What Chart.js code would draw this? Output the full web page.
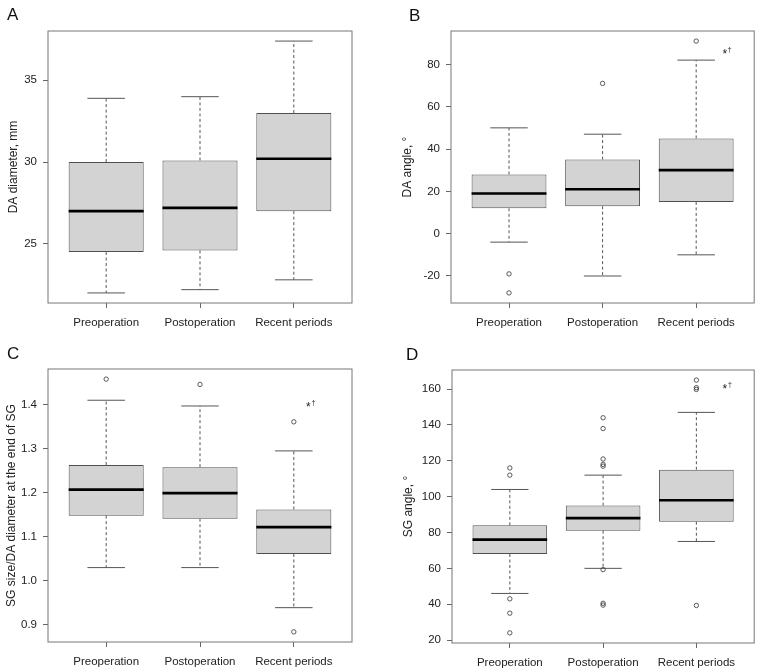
<!DOCTYPE html>
<html>
<head>
<meta charset="utf-8">
<script src="https://cdn.jsdelivr.net/npm/chart.js@4/dist/chart.umd.min.js"></script>
<style>
  body { margin: 0; background: #fff; width: 759px; height: 670px; position: relative; overflow: hidden;
         font-family: "Liberation Sans", Arial, sans-serif; }
  canvas { position: absolute; }
  .tag { position: absolute; font-size: 17px; line-height: 17px; color: #111; }
</style>
</head>
<body>
<canvas id="chartA" width="380" height="335" style="left:0;top:0"></canvas>
<canvas id="chartB" width="379" height="335" style="left:380px;top:0"></canvas>
<canvas id="chartC" width="380" height="335" style="left:0;top:335px"></canvas>
<canvas id="chartD" width="379" height="335" style="left:380px;top:335px"></canvas>
<div class="tag" style="left:7px;top:6px">A</div>
<div class="tag" style="left:409px;top:7px">B</div>
<div class="tag" style="left:7px;top:345px">C</div>
<div class="tag" style="left:406px;top:346px">D</div>
<script>
const categories = ['Preoperation', 'Postoperation', 'Recent periods'];

// A: DA diameter, mm
const diamLower  = [22.0, 22.2, 22.8];
const diamQ1     = [24.5, 24.6, 27.0];
const diamMedian = [27.0, 27.2, 30.2];
const diamQ3     = [30.0, 30.1, 33.0];
const diamUpper  = [33.9, 34.0, 37.4];
const diamOut    = [[], [], []];
const diamTicks  = [25, 30, 35];

// B: DA angle
const daLower  = [-4, -20, -10];
const daQ1     = [12, 13, 15];
const daMedian = [19, 21, 30];
const daQ3     = [28, 35, 45];
const daUpper  = [50, 47, 82];
const daOut    = [[-19, -28], [71], [91]];
const daTicks  = [-20, 0, 20, 40, 60, 80];
const daNote   = [3.28, 86.4];

// C: SG size / DA diameter ratio
const ratioLower  = [1.03, 1.03, 0.939];
const ratioQ1     = [1.148, 1.141, 1.061];
const ratioMedian = [1.207, 1.199, 1.122];
const ratioQ3     = [1.263, 1.258, 1.162];
const ratioUpper  = [1.41, 1.397, 1.295];
const ratioOut    = [[1.458], [1.446], [1.361, 0.884]];
const ratioTicks  = [0.9, 1.0, 1.1, 1.2, 1.3, 1.4];
const ratioNote   = [3.13, 1.402];

// D: SG angle
const sgLower  = [46, 60, 75];
const sgQ1     = [68, 81, 86];
const sgMedian = [76, 88, 98];
const sgQ3     = [84, 95, 115];
const sgUpper  = [104, 112, 147];
const sgOut    = [[116, 112, 43, 35, 24], [144, 138, 121, 118, 117, 59.3, 40.5, 39.5], [165, 160.8, 159.8, 39.3]];
const sgTicks  = [20, 40, 60, 80, 100, 120, 140, 160];
const sgNote   = [3.28, 161.8];

const FONT = { family: '"Liberation Sans", Arial, sans-serif', size: 11.5 };
const TEXT = '#222';

function makeBoxChart(id, s, box) {
  const canvas = document.getElementById(id);
  const W = canvas.width, H = canvas.height;

  // R-style ranges: data span plus 4% either side
  const all = s.lower.concat(s.upper, s.outliers.flat());
  const lo = Math.min(...all), hi = Math.max(...all);
  const pad = (hi - lo) * 0.04;

  const boxes = categories.map((c, i) => ({ x: i + 1, y: [s.q1[i], s.q3[i]] }));
  const points = [];
  s.outliers.forEach((list, i) => list.forEach(v => points.push({ x: i + 1, y: v })));

  const boxPlugin = {
    id: 'boxParts',
    beforeDatasetsDraw(chart) {
      const ctx = chart.ctx, y = chart.scales.y;
      const bars = chart.getDatasetMeta(0).data;
      ctx.save();
      ctx.strokeStyle = '#555';
      ctx.lineWidth = 1;
      bars.forEach((bar, i) => {
        const cap = bar.width / 4;
        ctx.setLineDash([3, 2.5]);
        ctx.beginPath();
        ctx.moveTo(bar.x, y.getPixelForValue(s.q3[i]));
        ctx.lineTo(bar.x, y.getPixelForValue(s.upper[i]));
        ctx.moveTo(bar.x, y.getPixelForValue(s.q1[i]));
        ctx.lineTo(bar.x, y.getPixelForValue(s.lower[i]));
        ctx.stroke();
        ctx.setLineDash([]);
        ctx.beginPath();
        ctx.moveTo(bar.x - cap, y.getPixelForValue(s.upper[i]));
        ctx.lineTo(bar.x + cap, y.getPixelForValue(s.upper[i]));
        ctx.moveTo(bar.x - cap, y.getPixelForValue(s.lower[i]));
        ctx.lineTo(bar.x + cap, y.getPixelForValue(s.lower[i]));
        ctx.stroke();
      });
      ctx.restore();
    },
    afterDatasetsDraw(chart) {
      const ctx = chart.ctx, y = chart.scales.y, x = chart.scales.x;
      const bars = chart.getDatasetMeta(0).data;
      const a = chart.chartArea;
      ctx.save();
      ctx.strokeStyle = '#000';
      ctx.lineWidth = 2.6;
      bars.forEach((bar, i) => {
        const py = y.getPixelForValue(s.median[i]);
        ctx.beginPath();
        ctx.moveTo(bar.x - bar.width / 2, py);
        ctx.lineTo(bar.x + bar.width / 2, py);
        ctx.stroke();
      });
      ctx.strokeStyle = '#777';
      ctx.lineWidth = 1;
      ctx.strokeRect(a.left, a.top, a.right - a.left, a.bottom - a.top);
      if (s.note) {
        const nx = x.getPixelForValue(s.note[0]);
        const ny = y.getPixelForValue(s.note[1]);
        ctx.fillStyle = TEXT;
        ctx.textBaseline = 'alphabetic';
        ctx.textAlign = 'left';
        ctx.font = '12px "Liberation Sans", Arial, sans-serif';
        ctx.fillText('*', nx, ny + 6.9);
        const w = ctx.measureText('*').width;
        ctx.font = '7px "Liberation Sans", Arial, sans-serif';
        ctx.fillText('\u2020', nx + w + 0.8, ny + 1.5);
      }
      ctx.restore();
    }
  };

  return new Chart(canvas, {
    type: 'bar',
    data: {
      datasets: [
        {
          type: 'bar', data: boxes, order: 1,
          backgroundColor: '#d3d3d3', borderColor: '#505050', borderWidth: 1, borderSkipped: false,
          barPercentage: 0.8, categoryPercentage: 1
        },
        {
          type: 'scatter', data: points, order: 0,
          pointRadius: 2.2, pointBorderWidth: 0.8,
          borderColor: '#333', backgroundColor: 'rgba(0,0,0,0)'
        }
      ]
    },
    options: {
      responsive: false,
      animation: false,
      events: [],
      layout: { padding: { left: 0, top: box.top, right: W - box.right, bottom: 0 } },
      plugins: { legend: { display: false }, tooltip: { enabled: false } },
      scales: {
        x: {
          type: 'linear', min: 0.38, max: 3.62, offset: false,
          afterBuildTicks: sc => { sc.ticks = categories.map((c, i) => ({ value: i + 1 })); },
          afterFit: sc => { sc.height = H - box.bottom; },
          ticks: { callback: (v, i) => categories[i], font: FONT, color: TEXT, padding: 8, maxRotation: 0, autoSkip: false },
          grid: { drawOnChartArea: false, tickLength: 5, color: '#666', offset: false },
          border: { display: false }
        },
        y: {
          type: 'linear', min: lo - pad, max: hi + pad,
          afterBuildTicks: sc => { sc.ticks = s.ticks.map(v => ({ value: v })); },
          afterFit: sc => { sc.width = box.left; },
          ticks: { callback: v => v.toFixed(s.decimals), font: FONT, color: TEXT, padding: 6 },
          grid: { drawOnChartArea: false, tickLength: 5, color: '#666' },
          border: { display: false },
          title: { display: true, text: s.title, font: { family: FONT.family, size: 12 }, color: TEXT,
                   padding: { top: box.titleX - 7.2, bottom: 0 } }
        }
      }
    },
    plugins: [boxPlugin]
  });
}

makeBoxChart('chartA', {
  lower: diamLower, q1: diamQ1, median: diamMedian, q3: diamQ3, upper: diamUpper,
  outliers: diamOut, ticks: diamTicks, decimals: 0, title: 'DA diameter, mm'
}, { left: 48, top: 31, right: 352, bottom: 303, titleX: 13.8 });

makeBoxChart('chartB', {
  lower: daLower, q1: daQ1, median: daMedian, q3: daQ3, upper: daUpper,
  outliers: daOut, ticks: daTicks, decimals: 0, title: 'DA angle, \u00b0', note: daNote
}, { left: 71, top: 31, right: 376, bottom: 303, titleX: 28 });

makeBoxChart('chartC', {
  lower: ratioLower, q1: ratioQ1, median: ratioMedian, q3: ratioQ3, upper: ratioUpper,
  outliers: ratioOut, ticks: ratioTicks, decimals: 1, title: 'SG size/DA diameter at the end of SG', note: ratioNote
}, { left: 48, top: 34, right: 352, bottom: 307, titleX: 11.3 });

makeBoxChart('chartD', {
  lower: sgLower, q1: sgQ1, median: sgMedian, q3: sgQ3, upper: sgUpper,
  outliers: sgOut, ticks: sgTicks, decimals: 0, title: 'SG angle, \u00b0', note: sgNote
}, { left: 72, top: 35, right: 376, bottom: 308, titleX: 28.3 });
</script>
</body>
</html>
